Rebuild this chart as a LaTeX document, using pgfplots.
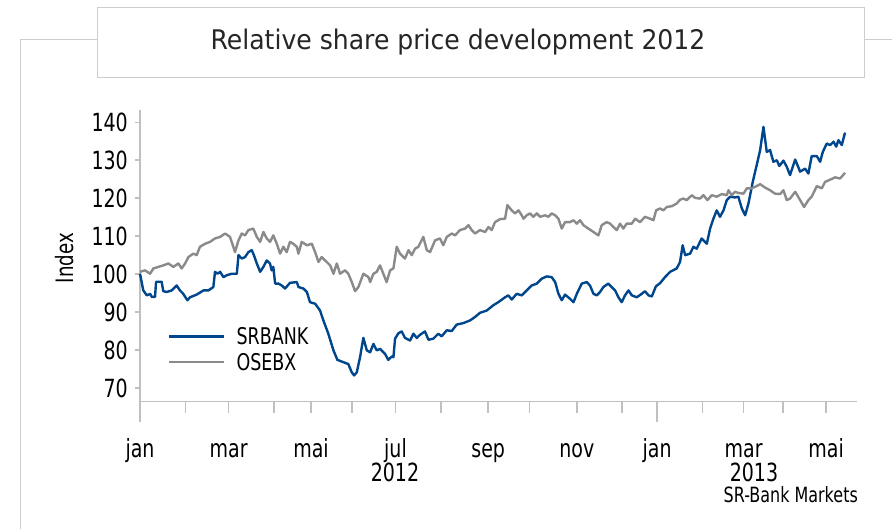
\documentclass[border=0pt]{standalone}
\usepackage{fontspec}
\setmainfont{DejaVu Sans}[FakeStretch=0.76]
\newfontfamily\titlefont{DejaVu Sans}[FakeStretch=0.93]
\usepackage{pgfplots}
\pgfplotsset{compat=1.18}
\definecolor{srblue}{RGB}{0,70,140}
\definecolor{osegray}{RGB}{138,138,138}
\definecolor{axgray}{RGB}{192,192,192}
\definecolor{framegray}{RGB}{205,205,205}
\begin{document}
\begin{tikzpicture}[x=1pt,y=1pt]
\useasboundingbox (0pt,0pt) rectangle (892pt,529pt);
\fill[white] (0pt,0pt) rectangle (892pt,529pt);
\draw[framegray, line width=1pt] (20pt,0pt) -- (20pt,489pt) -- (892pt,489pt);
\draw[framegray, line width=1pt, fill=white] (97pt,451pt) rectangle (864pt,521pt);
\node[font=\titlefont\fontsize{27}{30}\selectfont, text=black!85, anchor=base] at (458pt,479pt) {Relative share price development 2012};
\begin{axis}[
  at={(140pt,127.3pt)}, anchor=south west, scale only axis,
  width=717pt, height=291.7pt,
  xmin=0, xmax=348, ymin=66.38, ymax=143.25,
  axis x line=bottom, axis y line=left,
  axis line style={-, draw=axgray, line width=1.6pt},
  tick align=outside,
  tick style={axgray, line width=1.6pt},
  major tick length=5pt,
  minor tick length=20pt,
  xtick={0,43,83,124,169,212,251,293,333},
  xticklabels={jan,mar,mai,jul,sep,nov,jan,mar,mai},
  minor xtick={0,251},
  extra x ticks={22,43,65,83,103,124,146,169,189,212,234,251,273,293,312,333},
  extra x tick labels={},
  extra x tick style={major tick length=11pt},
  ytick={70,80,...,140},
  /pgf/number format/assume math mode=true,
  xticklabel style={font=\fontsize{25}{28}\selectfont, text=black, anchor=base, yshift=-51.3pt},
  yticklabel style={font=\fontsize{25}{28}\selectfont, text=black, anchor=east, inner sep=0pt, xshift=-7pt},
  legend style={draw=none, fill=none, at={(axis description cs:0.039,0.179)}, anchor=west,
    font=\fontsize{23}{26}\selectfont, inner sep=0pt, row sep=3pt, /tikz/column sep=9pt},
  legend cell align=left,
  legend image code/.code={\draw[#1] (0pt,0pt) -- (55pt,0pt);},
  clip=false,
]
\addplot[srblue, line width=2.4pt, line join=round] coordinates {
(0,100.1) (1.6,95.7) (3.3,94.4) (4.9,94.8) (5.7,94) (7.3,94) (7.8,98) (10.5,98) (11.3,95.5) (13,95.3)
(15.4,95.7) (17.8,97) (19.4,95.7) (21,94.8) (23,93.1) (24.3,93.9) (27.5,94.6) (30.8,95.7) (33.2,95.7) (35.6,96.6)
(36.4,100.6) (37.6,100.1) (38.9,100.6) (40.5,99.2) (42.1,99.7) (44.5,100.1) (47,100.1) (47.8,105) (49.4,104.1) (51,104.5)
(52.6,105.8) (54.2,106.3) (55,105.4) (56.7,102.8) (58.3,100.6) (59.9,101.9) (61.5,103.6) (63.1,102.8) (63.9,101) (64.7,101.9)
(65.6,97.5) (67.2,97.5) (68.8,97) (70.4,96.2) (72.8,97.7) (76.1,97.9) (76.9,96.6) (79.3,96.2) (81,95.3) (82.5,92.6)
(85,92.2) (87.4,90.4) (89,87.8) (91.4,84.3) (93.9,79.9) (95.8,77.4) (98.7,76.8) (101.1,76.3) (102.8,74.1) (103.9,73.3)
(105.2,74.1) (106.8,78.1) (108.4,83.2) (110.1,79.9) (111.7,79.4) (113.3,81.6) (114.9,79.9) (116.5,80.3)
(118.9,79) (120.5,77.4) (122.2,78.3) (123,78.1) (123.8,83) (125.4,84.4) (127,84.9) (128.6,83.2) (131.1,82.5) (132.7,84.3)
(134.3,83.2) (135.9,84) (138.3,84.9) (140,82.7) (142.4,83) (144.8,84.3) (146.4,83.6) (148.9,85.2) (151.3,85) (153.7,86.7)
(157,87.1) (160.2,87.8) (162.6,88.7) (165,89.8) (168.3,90.4) (171.5,91.8) (173.9,92.6) (177.2,93.9) (178.8,94.4) (180.4,93.3)
(182.8,94.8) (185.3,94.4) (187.7,95.7) (190.1,97) (192.6,97.5) (195,98.8) (197.4,99.4) (199.8,99.2) (201.5,97.9) (203.1,94.8)
(204.7,93.1) (206.3,94.6) (208.7,93.5) (210.4,92.6) (212,94.8) (214.4,97.5) (216.8,97.9) (218.4,97) (220.1,94.8) (221.7,94.4)
(223.3,95.3) (224.9,96.6) (227.3,97.5) (228.9,96.6) (230.6,95.7) (232.2,93.9) (233.8,92.6) (235.4,94.4) (237.1,95.7) (238.7,94.4)
(241.1,93.9) (243.5,94.8) (245.1,95.5) (246.8,94.4) (248.4,94.1) (250.4,96.8) (252.4,97.6) (254.8,99.2) (257.3,100.6) (260.5,101.5)
(262.1,103.2) (263.4,107.6) (264.6,105) (267,105.4) (268.6,107.2) (270.2,106.7) (272.6,109.4) (275.1,108) (276.7,112) (278.3,114.6)
(279.9,116.8) (281.5,115.1) (283.2,116.8) (284.8,119.5) (286.4,120.4) (288.8,120.2) (290.4,120.4) (292.1,117.3) (293.7,115.5) (295.3,118.6)
(297.4,124.3) (299.3,128.7) (301,132.7) (302.6,138.8) (304.2,132.2) (305.8,132.7) (307.4,129.6) (309.1,130) (310.3,128.5) (312.3,129.9)
(313.9,128.3) (315.5,126.1) (318,130.2) (320.4,127) (322.8,127.8) (324.4,126.5) (326,131.1) (328.5,131.1) (330.1,129.6) (331.4,132.2)
(333.3,134.4) (335,134) (336.6,134.9) (337.9,133.6) (339,135.3) (340.6,134) (342.2,137.3)
};
\addlegendentry{SRBANK}
\addplot[osegray, line width=2.4pt, line join=round] coordinates {
(0,100.6) (2.4,101) (4.9,100.1) (6.5,101.5) (8.9,101.9) (11.3,102.3) (13.8,102.8) (16.2,101.9) (18.6,102.8) (20.2,101.5)
(21.9,102.8) (23.5,104.5) (25.9,105.4) (27.5,105) (29.1,107.2) (31.6,108) (34,108.5) (36.4,109.4) (38.9,109.8) (41.3,110.7)
(43.7,109.8) (45.3,107.2) (46.1,105.8) (47.8,108.9) (49.4,110.7) (51,110.2) (52.6,111.6) (55,112) (56.7,109.8) (58.3,108.5)
(59.9,111.1) (61.5,109.4) (63.1,108.5) (64.7,110.2) (66.4,108) (68,105.4) (69.6,107.2) (71.2,105.8) (72.8,108.5) (74.4,108)
(76.1,107.2) (76.9,105.4) (78.5,108.5) (81,107.6) (83.4,108) (85,105.8) (86.6,103.2) (88.2,104.5) (90.6,103.2) (92.3,102.3)
(93.9,100.1) (95.5,102.8) (97.1,100.1) (99.5,101) (101.1,100.1) (102.8,97.9) (104.4,95.5) (106,96.6) (108.4,100.1) (110.9,99.2)
(111.7,97.9) (113.3,100.1) (114.9,100.6) (116.5,102.3) (118.1,100.1) (119.7,97.9) (121.4,101) (123,101.5) (124.6,107.2) (126.2,105.4)
(128.6,104.1) (130.3,106.3) (131.9,105) (133.5,106.7) (135.1,107.2) (137.5,109.8) (139.2,106.3) (140.8,105.8) (143.2,108.9) (145.6,109.4)
(147.2,107.6) (148.9,109.8) (151.3,110.7) (152.9,110.2) (155.3,111.6) (157.8,112) (159.4,112.9) (161,111.6) (162.6,110.7) (165,111.6)
(167.5,111.1) (169.1,112.4) (170.7,111.6) (172.3,113.7) (174.8,114.5) (177.2,114.6) (178.3,118.2) (180.4,116.8) (182,116) (183.7,116.8)
(185.3,115.5) (186.1,114.6) (187.7,115.5) (189.3,116) (190.9,115.1) (192.6,116) (194.2,115.1) (196.6,115.5) (198.2,115.1) (199.8,116)
(201.5,115.5) (203.1,114.6) (204.7,112) (206.3,113.7) (208.7,113.7) (210.4,114.2) (212,113.3) (213.6,114.2) (215.2,112.9) (217.6,112)
(220.1,111.1) (222.5,110.2) (224.1,112.9) (226.5,113.7) (228.2,113.3) (229.8,112.4) (231.4,111.6) (233,113.3) (234.6,112) (236.2,113.3)
(238.7,113.3) (240.3,114.6) (242.7,113.7) (245.1,115.1) (247.6,114.6) (249.2,114.2) (250.5,116.8) (252.4,117.3) (254,116.8) (255.7,117.7)
(258.1,117.9) (260.5,118.6) (262.1,119.6) (263.7,119.9) (265.4,119.5) (267.8,120.8) (269.4,120.1) (271.8,119.9) (273.5,120.8) (275.4,119.5)
(277.5,120.8) (279.9,120.4) (282.4,121.1) (284.8,120.8) (285.6,122.1) (287.2,120.8) (288.8,121.7) (290.4,121.4) (292.9,121.2) (294.5,122.6)
(296.9,122.6) (299.3,123.2) (301,123.7) (303.4,122.8) (305.8,122.1) (308.2,121.2) (310.7,121.1) (312.3,122.1) (313.9,119.5) (315.5,119.9)
(318,121.7) (320.4,119.5) (322.3,117.7) (324.4,119.5) (326,120.4) (328.5,123.2) (330.9,122.6) (332.5,124.3) (335,124.9) (337.4,125.5)
(339.8,125.2) (342.2,126.7)
};
\addlegendentry{OSEBX}
\end{axis}
\node[rotate=90, font=\fontsize{24}{27}\selectfont] at (64.5pt,271pt) {Index};
\node[font=\fontsize{25}{28}\selectfont, anchor=base] at (395pt,47.3pt) {2012};
\node[font=\fontsize{25}{28}\selectfont, anchor=base] at (754pt,47.3pt) {2013};
\node[font=\fontsize{21}{24}\selectfont, anchor=base east, inner sep=0pt] at (858pt,26pt) {SR-Bank Markets};
\end{tikzpicture}
\end{document}
